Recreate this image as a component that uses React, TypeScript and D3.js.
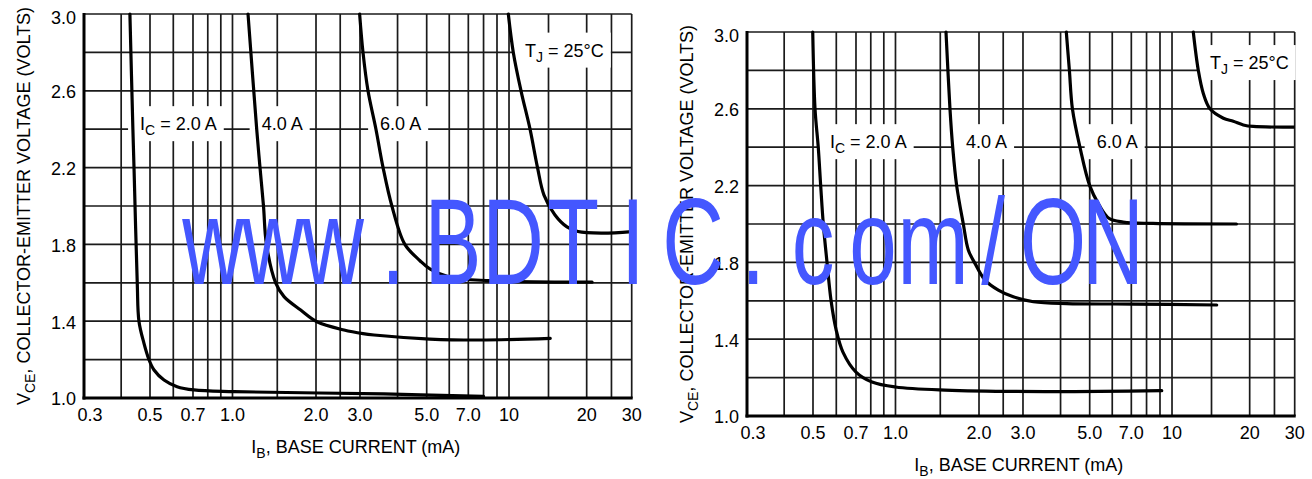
import React, { useEffect, useRef } from "react";
import * as d3 from "d3";

// ---------- axis definitions ----------
const xTickValues = [0.3, 0.5, 0.7, 1.0, 2.0, 3.0, 5.0, 7.0, 10, 20, 30];
const xTickLabels = ["0.3", "0.5", "0.7", "1.0", "2.0", "3.0", "5.0", "7.0", "10", "20", "30"];
const xGridValues = [0.4, 0.5, 0.6, 0.7, 0.8, 0.9, 1, 1.5, 2, 2.5, 3, 4, 5, 6, 7, 8, 9, 10, 15, 20, 25];
const yTickValues = [1.0, 1.4, 1.8, 2.2, 2.6, 3.0];
const yTickLabels = ["1.0", "1.4", "1.8", "2.2", "2.6", "3.0"];
const yGridValues = [1.2, 1.4, 1.6, 1.8, 2.0, 2.2, 2.4, 2.6, 2.8];

// calibration of the (scanned, not perfectly logarithmic) IB axis
const xAnchorValues = [0.3, 0.5, 0.7, 1, 1.5, 2, 3, 5, 7, 10, 15, 20, 30];
const xAnchorFractions = [0, 0.1205, 0.199, 0.2711, 0.3529, 0.4236, 0.5039, 0.6257, 0.7017, 0.776, 0.8481, 0.9178, 1];

// ---------- data: [IB (mA), VCE (V)] ----------
const leftIc2 = [[0.428, 3.0], [0.438, 2.4], [0.442, 2.19], [0.453, 1.6], [0.459, 1.4], [0.477, 1.286], [0.496, 1.2], [0.516, 1.146], [0.558, 1.094], [0.618, 1.059], [0.706, 1.042], [1.014, 1.033], [3.6, 1.021], [8.0, 1.008]];
const leftIc4 = [[1.151, 3.0], [1.245, 2.4], [1.283, 2.2], [1.324, 2.0], [1.36, 1.8], [1.478, 1.6], [1.577, 1.528], [1.785, 1.458], [2.018, 1.397], [2.59, 1.354], [3.07, 1.335], [3.34, 1.328], [5.13, 1.307], [7.76, 1.302], [15.2, 1.311]];
const leftIc6 = [[2.99, 3.0], [3.07, 2.8], [3.19, 2.6], [3.39, 2.4], [3.58, 2.2], [3.83, 2.0], [4.23, 1.8], [4.75, 1.715], [5.13, 1.672], [6.04, 1.629], [8.47, 1.611], [21, 1.603]];
const leftIc8 = [[9.94, 3.0], [10.45, 2.8], [11.31, 2.6], [12.41, 2.4], [13.4, 2.2], [14.32, 2.057], [15.75, 1.953], [17.24, 1.891], [18.73, 1.867], [23, 1.859], [30, 1.867]];

const rightIc2 = [[0.499, 3.0], [0.508, 2.6], [0.521, 2.4], [0.531, 2.2], [0.542, 2.0], [0.558, 1.8], [0.576, 1.6], [0.599, 1.45], [0.632, 1.333], [0.7, 1.229], [0.809, 1.177], [1.0, 1.151], [1.553, 1.135], [3.55, 1.127], [9.14, 1.132]];
const rightIc4 = [[1.565, 3.0], [1.612, 2.6], [1.645, 2.4], [1.694, 2.2], [1.78, 2.0], [1.847, 1.865], [1.941, 1.795], [2.114, 1.708], [2.39, 1.656], [2.743, 1.621], [3.25, 1.595], [4.19, 1.585], [7.12, 1.583], [15.6, 1.578]];
const rightIc6 = [[4.18, 3.0], [4.28, 2.8], [4.38, 2.6], [4.64, 2.4], [5.0, 2.2], [5.39, 2.1], [5.84, 2.03], [6.55, 2.01], [8.47, 2.003], [18.1, 2.0]];
const rightIc8 = [[12.44, 3.0], [13.1, 2.8], [13.79, 2.68], [14.77, 2.6], [16.4, 2.551], [17.68, 2.535], [19.06, 2.516], [20.66, 2.508], [30, 2.505]];

// labels: [main, subscript, rest], anchored at (IB, VCE) baseline-start
const leftLabels = [
  { parts: ["I", "C", " = 2.0 A"], ib: 0.463, v: 2.395 },
  { parts: ["4.0 A", "", ""], ib: 1.302, v: 2.395 },
  { parts: ["6.0 A", "", ""], ib: 3.5, v: 2.395 },
  { parts: ["T", "J", " = 25°C"], ib: 11.79, v: 2.778 },
];
const rightLabels = [
  { parts: ["I", "C", " = 2.0 A"], ib: 0.571, v: 2.395 },
  { parts: ["4.0 A", "", ""], ib: 1.816, v: 2.395 },
  { parts: ["6.0 A", "", ""], ib: 5.29, v: 2.395 },
  { parts: ["T", "J", " = 25°C"], ib: 14.77, v: 2.807 },
];

const watermark = "www.BDTIC.com/ON";

const FONT = "'Liberation Sans', Arial, Helvetica, sans-serif";
const PW = 547.7;
const PH = 384;

function drawChart(svg: any, id: string, ox: number, oy: number, series: number[][][], labels: any[]) {
  const g = svg.append("g").attr("transform", `translate(${ox},${oy})`);
  const x = d3.scaleLog().domain(xAnchorValues).range(xAnchorFractions.map((f) => f * PW));
  const y = d3.scaleLinear().domain([1, 3]).range([PH, 0]);

  g.append("clipPath").attr("id", id).append("rect").attr("x", 0).attr("y", -2).attr("width", PW).attr("height", PH + 2);

  // grid
  const grid = g.append("g").attr("stroke", "#1a1a1a").attr("stroke-width", 1.7);
  grid.selectAll("line.v").data(xGridValues).join("line")
    .attr("x1", (d: number) => x(d)).attr("x2", (d: number) => x(d)).attr("y1", 0).attr("y2", PH);
  grid.selectAll("line.h").data(yGridValues).join("line")
    .attr("y1", (d: number) => y(d)).attr("y2", (d: number) => y(d)).attr("x1", 0).attr("x2", PW);
  // top/right border
  grid.append("line").attr("x1", 0).attr("x2", PW).attr("y1", y(3)).attr("y2", y(3));
  grid.append("line").attr("x1", x(30)).attr("x2", x(30)).attr("y1", 0).attr("y2", PH);

  // label text (measure for white boxes)
  const boxes = g.append("g");
  const curves = g.append("g").attr("clip-path", `url(#${id})`);
  const axes = g.append("g");
  const texts = g.append("g").attr("font-family", FONT).attr("font-size", 18).attr("fill", "#000");

  labels.forEach((lb) => {
    const t = texts.append("text").attr("x", x(lb.ib)).attr("y", y(lb.v));
    t.append("tspan").text(lb.parts[0]);
    if (lb.parts[1]) {
      t.append("tspan").attr("dy", 5).attr("font-size", 14).text(lb.parts[1]);
      t.append("tspan").attr("dy", -5).text(lb.parts[2]);
    }
    const bb = (t.node() as SVGTextElement).getBBox();
    boxes.append("rect")
      .attr("x", bb.x - 12).attr("y", y(lb.v) - 24)
      .attr("width", bb.width + 19).attr("height", 35)
      .attr("fill", "#fff");
  });

  const line = d3.line<number[]>()
    .x((d) => x(d[0]))
    .y((d) => y(d[1]))
    .curve(d3.curveCatmullRom.alpha(0.5));
  series.forEach((s) => {
    curves.append("path").attr("d", line(s as any)).attr("fill", "none")
      .attr("stroke", "#000").attr("stroke-width", 3.2).attr("stroke-linecap", "round");
  });

  // thick left and bottom axes
  axes.append("line").attr("x1", 0).attr("x2", 0).attr("y1", -1).attr("y2", PH + 1.5).attr("stroke", "#000").attr("stroke-width", 3);
  axes.append("line").attr("x1", -1.5).attr("x2", PW + 1).attr("y1", PH).attr("y2", PH).attr("stroke", "#000").attr("stroke-width", 3);

  // tick labels
  texts.selectAll("text.xt").data(xTickValues).join("text").attr("class", "xt")
    .attr("x", (d: number, i: number) => x(d) + (i === 0 ? 6 : 0))
    .attr("y", PH + 23).attr("text-anchor", "middle")
    .text((d: number, i: number) => xTickLabels[i]);
  texts.selectAll("text.yt").data(yTickValues).join("text").attr("class", "yt")
    .attr("x", -8).attr("y", (d: number) => y(d) + (d === 3 ? 4 : 1)).attr("dy", "0.35em").attr("text-anchor", "end")
    .text((d: number, i: number) => yTickLabels[i]);

  // x title
  const xt = texts.append("text").attr("x", PW / 2 - 2).attr("y", PH + 55).attr("text-anchor", "middle");
  xt.append("tspan").text("I");
  xt.append("tspan").attr("dy", 5).attr("font-size", 14).text("B");
  xt.append("tspan").attr("dy", -5).text(", BASE CURRENT (mA)");

  // y title
  const yt = texts.append("text").attr("transform", `translate(-54,${PH / 2}) rotate(-90)`).attr("text-anchor", "middle");
  yt.append("tspan").text("V");
  yt.append("tspan").attr("dy", 5).attr("font-size", 14).text("CE");
  yt.append("tspan").attr("dy", -5).text(", COLLECTOR-EMITTER VOLTAGE (VOLTS)");
}

export default function App() {
  const ref = useRef<SVGSVGElement>(null);
  useEffect(() => {
    const svg = d3.select(ref.current);
    svg.selectAll("*").remove();
    svg.append("rect").attr("width", 1312).attr("height", 479).attr("fill", "#fff");
    drawChart(svg, "clipL", 84, 14, [leftIc2, leftIc4, leftIc6, leftIc8], leftLabels);
    drawChart(svg, "clipR", 747, 32, [rightIc2, rightIc4, rightIc6, rightIc8], rightLabels);

    const sx = 0.7;
    const chars = watermark.split("");
    const xs = chars.map((_, i) => (213 + 60 * i) / sx);
    svg.append("g").attr("transform", `translate(0,284) scale(${sx},1)`)
      .append("text")
      .attr("x", xs.join(" ")).attr("y", 0)
      .attr("text-anchor", "middle")
      .attr("font-family", FONT).attr("font-size", 122)
      .attr("fill", "#4457ff")
      .text(watermark);
  }, []);
  return (
    <svg ref={ref} width={1312} height={479} style={{ position: "absolute", left: 0, top: 0 }} />
  );
}
